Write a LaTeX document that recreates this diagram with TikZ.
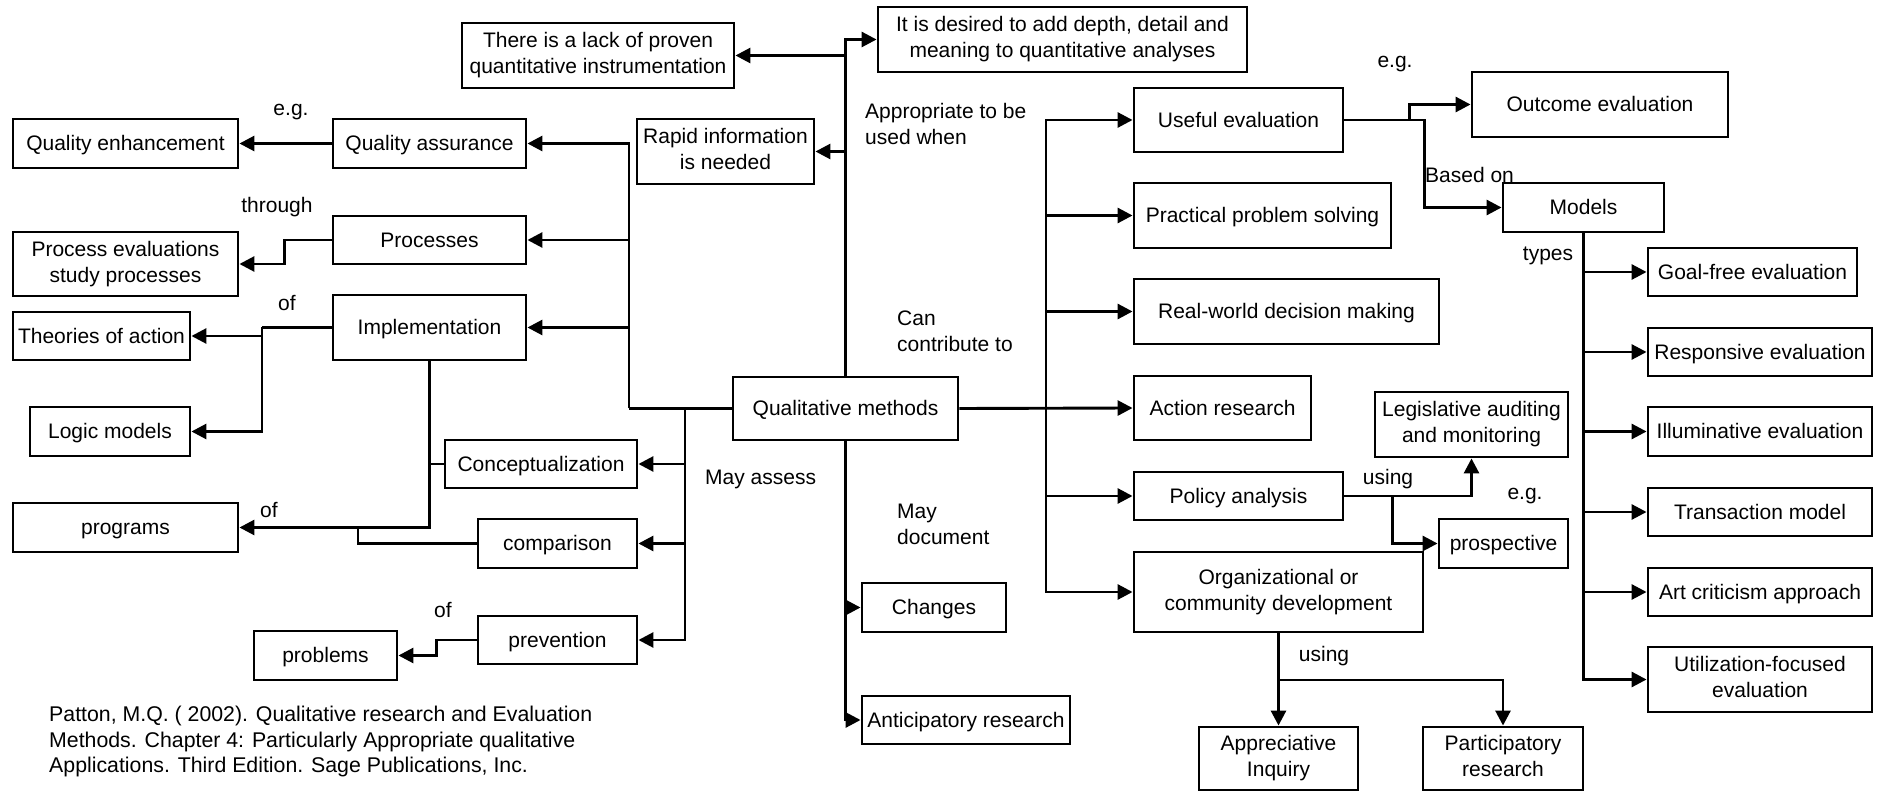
\documentclass[tikz,border=0pt]{standalone}
\usepackage{fontspec}
\setmainfont{Liberation Sans}
\usetikzlibrary{arrows.meta}
\newcommand\bx[7][]{\node[box,#1,minimum width=#5pt,minimum height=#6pt] (#2) at (#3,#4) {#7};}
\begin{document}
\begin{tikzpicture}[x=1pt,y=-1pt,
  box/.style={draw,line width=2.9pt,inner sep=0pt,align=center,font=\fontsize{21}{26}\selectfont,
    execute at begin node={\vrule height19pt depth4.45pt width0pt},
    execute at end node={\vrule height19pt depth4.45pt width0pt}},
  two/.style={execute at begin node={\vrule height24pt depth4.45pt width0pt}},
  lbl/.style={inner sep=0pt,align=left,font=\fontsize{21}{26}\selectfont},
  conn/.style={line width=2.9pt},
  arr/.style={line width=2.9pt,-{Triangle[length=15pt,width=15pt]}}]
\useasboundingbox (0,0) rectangle (1877,791);
% boxes
\bx[two]{lack}{598}{55.5}{272}{65}{There is a lack of proven\\quantitative instrumentation}
\bx[two]{desired}{1062.5}{39.5}{369}{65}{It is desired to add depth, detail and\\meaning to quantitative analyses}
\bx{qenh}{125.5}{143.5}{225}{49}{Quality enhancement}
\bx{qass}{429.5}{143.5}{193}{49}{Quality assurance}
\bx[two]{rapid}{725.5}{151.5}{177}{65}{Rapid information\\is needed}
\bx{proc}{429.5}{240}{193}{48}{Processes}
\bx[two]{proceval}{125.5}{264}{225}{64}{Process evaluations\\study processes}
\bx{impl}{429.5}{327.5}{193}{65}{Implementation}
\bx{theories}{101.5}{336}{177}{48}{Theories of action}
\bx{logic}{110}{431.5}{160}{49}{Logic models}
\bx{qual}{845.5}{408.5}{225}{63}{Qualitative methods}
\bx{concept}{541}{464}{192}{48}{Conceptualization}
\bx{programs}{125.5}{527.5}{225}{49}{programs}
\bx{comparison}{557.5}{543.5}{159}{49}{comparison}
\bx{prevention}{557.5}{640}{159}{48}{prevention}
\bx{problems}{325.5}{655.5}{143}{49}{problems}
\bx{changes}{934}{607.5}{144}{49}{Changes}
\bx{anticip}{966}{720}{208}{48}{Anticipatory research}
\bx{useful}{1238.5}{120}{209}{64}{Useful evaluation}
\bx{outcome}{1600}{104.5}{256}{65}{Outcome evaluation}
\bx{models}{1583.5}{207.5}{161}{49}{Models}
\bx{practical}{1262.5}{215.5}{257}{65}{Practical problem solving}
\bx{realworld}{1286.5}{311.5}{305}{65}{Real-world decision making}
\bx{action}{1222.5}{408}{177}{64}{Action research}
\bx[two]{legis}{1471.5}{424.5}{193}{65}{Legislative auditing\\and monitoring}
\bx{policy}{1238.5}{496}{209}{48}{Policy analysis}
\bx{prosp}{1503.5}{543.5}{129}{49}{prospective}
\bx[two]{org}{1278.5}{592}{289}{80}{Organizational or\\community development}
\bx[two]{appr}{1278.5}{758.5}{159}{63}{Appreciative\\Inquiry}
\bx[two]{partic}{1503}{758.5}{160}{63}{Participatory\\research}
\bx{goalfree}{1752.5}{272}{209}{48}{Goal-free evaluation}
\bx{responsive}{1760}{352}{224}{48}{Responsive evaluation}
\bx{illum}{1760}{431.5}{224}{49}{Illuminative evaluation}
\bx{trans}{1760}{512}{224}{48}{Transaction model}
\bx{art}{1760}{592}{224}{48}{Art criticism approach}
\bx[two]{util}{1760}{679.5}{224}{65}{Utilization-focused\\evaluation}
% labels
\node[lbl] (l1) at (291,112) {e.g.};
\node[lbl] (l2) at (277,207) {through};
\node[lbl] (l3) at (287,303) {of};
\node[lbl] (l4) at (269,510) {of};
\node[lbl] (l5) at (443,610) {of};
\node[lbl,anchor=west] (l6) at (865,124) {Appropriate to be\\used when};
\node[lbl,anchor=west] (l7) at (897,331) {Can\\contribute to};
\node[lbl,anchor=west] (l8) at (705,479) {May assess};
\node[lbl,anchor=west] (l9) at (897,524) {May\\document};
\node[lbl] (l10) at (1395,64) {e.g.};
\node[lbl,anchor=west] (l11) at (1425,175) {Based on};
\node[lbl] (l12) at (1548,256) {types};
\node[lbl] (l13) at (1388,479) {using};
\node[lbl] (l14) at (1525,496) {e.g.};
\node[lbl] (l15) at (1324,656) {using};
\node[lbl,anchor=north west,font=\fontsize{21.3}{25.5}\selectfont] (cite) at (49,706) {Patton, M.Q. ( 2002). Qualitative research and Evaluation\\Methods. Chapter 4: Particularly Appropriate qualitative\\Applications. Third Edition. Sage Publications, Inc.};
% junction coordinates
\coordinate (lt) at (629,408.5);
\coordinate (mt) at (685,408.5);
\coordinate (rt) at (1046,408.5);
\coordinate (ij) at (262,327.5);
\coordinate (cj) at (358,527.5);
\coordinate (oj) at (1278.5,680);
% top trunk
\draw[arr] (qual.north) |- (desired.west);
\draw[arr] (qual.north |- lack.east) -- (lack.east);
\draw[arr] (qual.north |- rapid.east) -- (rapid.east);
% left trunks
\draw[conn] (qual.west) -- (lt);
\draw[arr] (lt) |- (qass.east);
\draw[arr] (lt |- proc.east) -- (proc.east);
\draw[arr] (lt |- impl.east) -- (impl.east);
\draw[arr] (mt) |- (prevention.east);
\draw[arr] (mt |- concept.east) -- (concept.east);
\draw[arr] (mt |- comparison.east) -- (comparison.east);
\draw[arr] (qass.west) -- (qenh.east);
\draw[arr] (proc.west) -- ++(-47,0) |- (proceval.east);
\draw[conn] (impl.west) -- (ij);
\draw[arr] (ij) |- (logic.east);
\draw[arr] (ij |- theories.east) -- (theories.east);
\draw[arr] (impl.south) |- (programs.east);
\draw[conn] (impl.south |- concept.west) -- (concept.west);
\draw[conn] (comparison.west) -| (cj);
\draw[arr] (prevention.west) -- ++(-40,0) |- (problems.east);
% bottom trunk
\draw[arr] (qual.south) |- (anticip.west);
\draw[arr] (qual.south |- changes.west) -- (changes.west);
% right trunk
\draw[arr] (qual.east) -- (action.west);
\draw[arr] (rt) |- (useful.west);
\draw[arr] (rt) |- (org.west);
\draw[arr] (rt |- practical.west) -- (practical.west);
\draw[arr] (rt |- realworld.west) -- (realworld.west);
\draw[arr] (rt |- policy.west) -- (policy.west);
\draw[arr] (useful.east) -- ++(65,0) |- (outcome.west);
\draw[arr] (useful.east) -- ++(80,0) |- (models.west);
\draw[arr] (models.south) |- (util.west);
\draw[arr] (models.south |- goalfree.west) -- (goalfree.west);
\draw[arr] (models.south |- responsive.west) -- (responsive.west);
\draw[arr] (models.south |- illum.west) -- (illum.west);
\draw[arr] (models.south |- trans.west) -- (trans.west);
\draw[arr] (models.south |- art.west) -- (art.west);
\draw[arr] (policy.east) -| (legis.south);
\draw[arr] (policy.east) -- ++(48,0) |- (prosp.west);
\draw[arr] (org.south) -- (appr.north);
\draw[arr] (oj) -| (partic.north);
\end{tikzpicture}
\end{document}
